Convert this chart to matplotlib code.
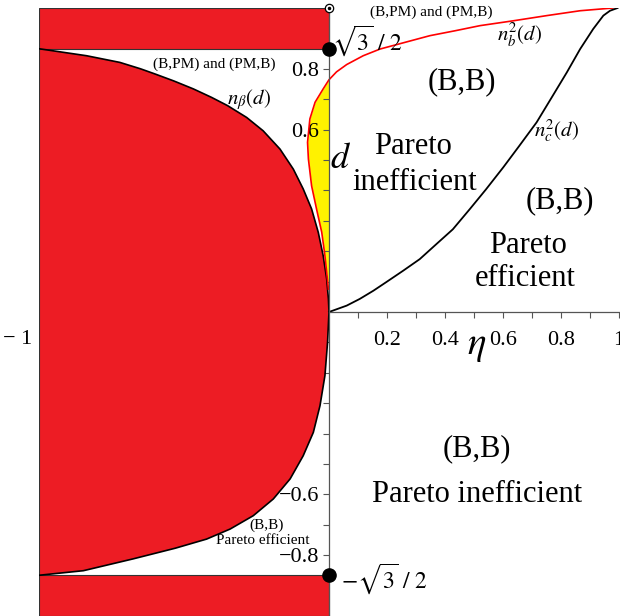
import numpy as np
import matplotlib.pyplot as plt

plt.rcParams['font.family'] = ['Liberation Serif', 'DejaVu Serif']
plt.rcParams['mathtext.fontset'] = 'stix'

s3 = np.sqrt(3) / 2

# n_beta(d), upper and lower branch
d_beta_up = [0.866, 0.843, 0.821, 0.800, 0.783, 0.760, 0.734, 0.706, 0.679, 0.640, 0.596,
             0.536, 0.470, 0.405, 0.339, 0.262, 0.185, 0.109, 0.043, 0.0]
n_beta_up = [-1.0, -0.836, -0.721, -0.650, -0.600, -0.535, -0.468, -0.405, -0.350, -0.284, -0.227,
             -0.169, -0.123, -0.089, -0.060, -0.037, -0.020, -0.008, -0.002, 0.0]
d_beta_lo = [0.0, -0.100, -0.209, -0.308, -0.396, -0.473, -0.549, -0.615, -0.670,
             -0.714, -0.747, -0.777, -0.812, -0.851, -0.866]
n_beta_lo = [0.0, -0.005, -0.014, -0.031, -0.054, -0.089, -0.134, -0.192, -0.261,
             -0.341, -0.422, -0.530, -0.675, -0.847, -1.0]

# n_b^2(d), red curve
d_b = [0.075, 0.131, 0.185, 0.262, 0.339, 0.415, 0.503, 0.558, 0.635, 0.690, 0.734, 0.764,
       0.790, 0.814, 0.843, 0.865, 0.887, 0.909, 0.925, 0.942, 0.958, 0.975, 0.991, 1.0]
n_b = [-0.002, -0.008, -0.014, -0.025, -0.043, -0.060, -0.071, -0.074, -0.066, -0.048, -0.020, 0.0,
       0.026, 0.061, 0.118, 0.176, 0.262, 0.348, 0.434, 0.521, 0.636, 0.751, 0.866, 0.979]

# n_c^2(d), black curve
d_c = [0.0, 0.021, 0.043, 0.070, 0.098, 0.136, 0.174, 0.224, 0.272, 0.339, 0.403, 0.476,
       0.545, 0.624, 0.709, 0.788, 0.865, 0.931, 0.975, 0.991, 1.0]
n_c = [0.0, 0.061, 0.106, 0.153, 0.197, 0.256, 0.313, 0.371, 0.427, 0.486, 0.541, 0.601,
       0.655, 0.716, 0.77, 0.82, 0.866, 0.911, 0.946, 0.969, 0.995]

xticks_lab = [0.2, 0.4, 0.6, 0.8, 1]
yticks_lab = [0.8, 0.6, -0.6, -0.8]

fig = plt.figure(figsize=(6.2, 6.16), dpi=100)
ax = fig.add_axes([39 / 620, 0.0, 580 / 620, 608 / 616])
ax.set_xlim(-1, 1)
ax.set_ylim(-1, 1)

red = '#ED1C24'
d_beta = d_beta_lo[::-1] + d_beta_up[::-1][1:]
n_beta = n_beta_lo[::-1] + n_beta_up[::-1][1:]

# yellow region between red curve and the d-axis
nb = np.array(n_b)
db = np.array(d_b)
m = nb <= 0
ax.fill_betweenx(db[m], nb[m], 0, color='#FFF200', lw=0, zorder=1)

ax.fill_betweenx(d_beta, -1, n_beta, facecolor=red, edgecolor='none', zorder=2)
ax.add_patch(plt.Rectangle((-1, s3), 1, 1 - s3, facecolor=red, edgecolor='#333333', lw=0.8, zorder=2))
ax.add_patch(plt.Rectangle((-1, -1), 1, 1 - s3, facecolor=red, edgecolor='#333333', lw=0.8, zorder=2))
ax.plot([-1, -1], [-s3, s3], color='#333333', lw=0.8, zorder=3)
ax.plot(n_beta, d_beta, color='black', lw=1.2, zorder=3)

ax.plot(n_b, d_b, color='red', lw=1.2, zorder=3)
ax.plot(n_c, d_c, color='black', lw=1.3, zorder=3)

# axes through origin
for side in ['top', 'right']:
    ax.spines[side].set_visible(False)
ax.spines['left'].set_position(('data', 0))
ax.spines['bottom'].set_position(('data', 0))
ax.spines['bottom'].set_bounds(0, 1)
for side in ['left', 'bottom']:
    ax.spines[side].set_color('#555555')
    ax.spines[side].set_linewidth(0.9)
    ax.spines[side].set_zorder(4)
ax.set_xticks(xticks_lab, ['0.2', '0.4', '0.6', '0.8', '1'])
ax.set_xticks(np.arange(0.1, 1.0, 0.2), minor=True)
ax.set_yticks(yticks_lab, ['0.8', '0.6', '\u22120.6', '\u22120.8'])
ax.set_yticks([v for v in np.round(np.arange(-0.9, 1.0, 0.1), 1) if v not in yticks_lab and v != 0],
              minor=True)
ax.tick_params(which='both', direction='out', length=4, width=0.8, color='#555555',
               labelsize=16, pad=3)
ax.tick_params(axis='x', which='major', pad=10)

ax.text(-1.072, -0.09, '\u2212 1', fontsize=16, ha='center', va='center')
ax.text(0.51, -0.11, r'$\eta$', fontsize=28, ha='center', va='center')
ax.text(0.038, 0.503, r'$d$', fontsize=26, ha='center', va='center')

# special points
ax.plot([0, 0], [s3, -s3], 'o', color='black', ms=9.5, zorder=5, clip_on=False)
ax.plot([0], [1], 'o', mfc='white', mec='black', ms=6, mew=0.9, zorder=5, clip_on=False)
ax.plot([0], [1], 'o', color='black', ms=1.5, zorder=6, clip_on=False)
ax.text(0.012, 0.892, r'$\sqrt{3}\ /\ 2$', fontsize=17, ha='left', va='center')
ax.text(0.043, -0.878, r'$-\sqrt{3}\ /\ 2$', fontsize=17, ha='left', va='center')

# region labels
ax.text(0.354, 0.986, '(B,PM) and (PM,B)', fontsize=11, ha='center', va='center')
ax.text(0.657, 0.909, r'$n_b^2(d)$', fontsize=15, ha='center', va='center')
ax.text(0.457, 0.756, '(B,B)', fontsize=22, ha='center', va='center')
ax.text(0.29, 0.543, 'Pareto', fontsize=22, ha='center', va='center')
ax.text(0.297, 0.427, 'inefficient', fontsize=22, ha='center', va='center')
ax.text(0.785, 0.596, r'$n_c^2(d)$', fontsize=15, ha='center', va='center')
ax.text(0.797, 0.366, '(B,B)', fontsize=22, ha='center', va='center')
ax.text(0.686, 0.218, 'Pareto', fontsize=22, ha='center', va='center')
ax.text(0.676, 0.109, 'efficient', fontsize=22, ha='center', va='center')

ax.text(-0.394, 0.816, '(B,PM) and (PM,B)', fontsize=11, ha='center', va='center')
ax.text(-0.276, 0.70, r'$n_\beta(d)$', fontsize=15, ha='center', va='center')

ax.text(0.509, -0.451, '(B,B)', fontsize=22, ha='center', va='center')
ax.text(0.509, -0.599, 'Pareto inefficient', fontsize=22, ha='center', va='center')
ax.text(-0.215, -0.70, '(B,B)', fontsize=11, ha='center', va='center')
ax.text(-0.227, -0.753, 'Pareto efficient', fontsize=11, ha='center', va='center')

fig.savefig('out.png', dpi=100)
